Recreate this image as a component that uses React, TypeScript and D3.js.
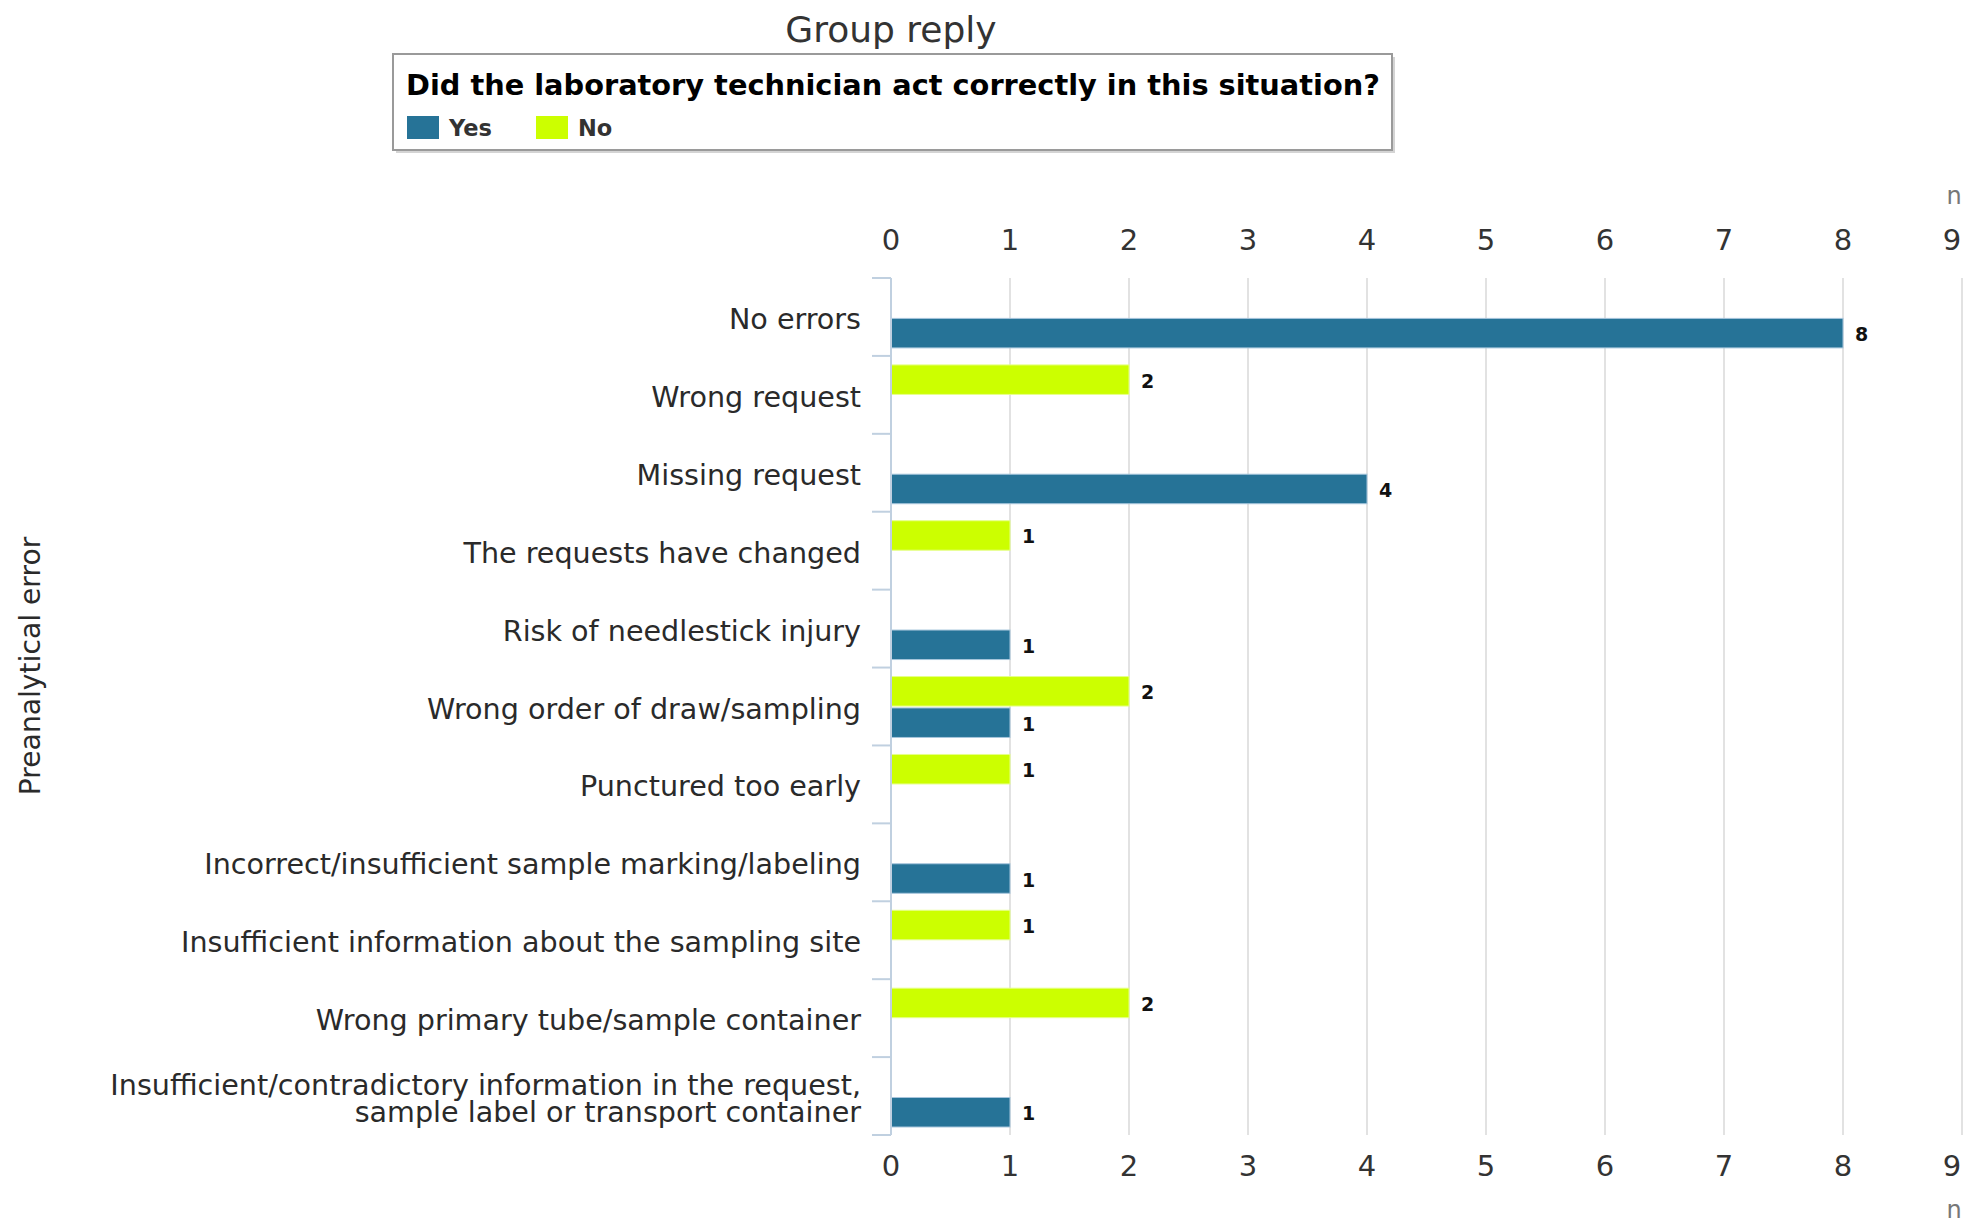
import React from "react";
import * as d3 from "d3";

const categories: string[][] = [
  ["No errors"],
  ["Wrong request"],
  ["Missing request"],
  ["The requests have changed"],
  ["Risk of needlestick injury"],
  ["Wrong order of draw/sampling"],
  ["Punctured too early"],
  ["Incorrect/insufficient sample marking/labeling"],
  ["Insufficient information about the sampling site"],
  ["Wrong primary tube/sample container"],
  ["Insufficient/contradictory information in the request,", "sample label or transport container"],
];
const seriesNames = ["No", "Yes"];
const noValues = [0, 2, 0, 1, 0, 2, 1, 0, 1, 2, 0];
const yesValues = [8, 0, 4, 0, 1, 1, 0, 1, 0, 0, 1];
const xTicks = [0, 1, 2, 3, 4, 5, 6, 7, 8, 9];
const legendItems = ["Yes", "No"];

const W = 1977;
const H = 1226;
const FONT = "'DejaVu Sans', Verdana, sans-serif";
const COLORS: Record<string, string> = { Yes: "#267397", No: "#ccff00" };
const STROKES: Record<string, string> = { Yes: "#a7c6dc", No: "#e6ff8a" };

export default function App() {
  const left = 891;
  const right = 1962;
  const top = 278;
  const bottom = 1135;
  const x = d3.scaleLinear().domain([0, 9]).range([left, right]);
  const keys = categories.map((c) => c.join(" "));
  const y = d3.scaleBand<string>().domain(keys).range([top, bottom]).padding(0);
  const bw = y.bandwidth();
  const sub = d3.scaleBand<string>().domain(seriesNames).range([9, bw - 8]).paddingInner(0.06).paddingOuter(0);
  const values: Record<string, number[]> = { No: noValues, Yes: yesValues };

  const boundaries = keys.map((k) => y(k) as number).concat([bottom]);

  return (
    <div style={{ position: "absolute", left: 0, top: 0 }}>
      <svg width={W} height={H} style={{ display: "block", fontFamily: FONT }}>
        <rect x={0} y={0} width={W} height={H} fill="#fff" />
        {/* Title */}
        <text x={891} y={29} textAnchor="middle" dominantBaseline="central" fontSize={36} fill="#333">
          Group reply
        </text>
        {/* Legend */}
        <rect x={396} y={57} width={999} height={96} fill="#d4d4d4" />
        <rect x={393} y={54} width={999} height={96} fill="#fff" stroke="#9a9a9a" strokeWidth={2} />
        <text x={406} y={85} dominantBaseline="central" fontSize={28.8} fontWeight="bold" fill="#000">
          Did the laboratory technician act correctly in this situation?
        </text>
        {legendItems.map((name, i) => {
          const lx = 407 + i * 129;
          return (
            <g key={name}>
              <rect x={lx} y={116} width={32} height={23} fill={COLORS[name]} />
              <text x={lx + 42} y={128} dominantBaseline="central" fontSize={22.5} fontWeight="bold" fill="#333">
                {name}
              </text>
            </g>
          );
        })}
        {/* Grid lines */}
        {xTicks.filter((t) => t > 0).map((t) => (
          <line key={"g" + t} x1={x(t)} x2={x(t)} y1={top} y2={bottom} stroke="#d9d9d9" strokeWidth={1.5} />
        ))}
        {/* Top and bottom tick labels */}
        {xTicks.map((t) => (
          <g key={"t" + t}>
            <text x={t === 9 ? x(t) - 10 : x(t)} y={240} textAnchor="middle" dominantBaseline="central" fontSize={29} fill="#333">
              {t}
            </text>
            <text x={t === 9 ? x(t) - 10 : x(t)} y={1166} textAnchor="middle" dominantBaseline="central" fontSize={29} fill="#333">
              {t}
            </text>
          </g>
        ))}
        <text x={1954} y={196} textAnchor="middle" dominantBaseline="central" fontSize={24} fill="#777">n</text>
        <text x={1954} y={1210} textAnchor="middle" dominantBaseline="central" fontSize={24} fill="#777">n</text>
        {/* Bars */}
        {keys.map((k, i) => (
          <g key={k}>
            {seriesNames.map((s) => {
              const v = values[s][i];
              if (!v) return null;
              const by = (y(k) as number) + (sub(s) as number);
              const bh = sub.bandwidth();
              return (
                <g key={s}>
                  <rect x={x(0)} y={by} width={x(v) - x(0)} height={bh} fill={COLORS[s]} stroke={STROKES[s]} strokeWidth={1} />
                  <text x={x(v) + 12} y={by + bh / 2 + 1} dominantBaseline="central" fontSize={19} fontWeight="bold" fill="#111">
                    {v}
                  </text>
                </g>
              );
            })}
          </g>
        ))}
        {/* Left axis */}
        <line x1={left} x2={left} y1={top} y2={bottom} stroke="#c0d0e0" strokeWidth={2} />
        {boundaries.map((b, i) => (
          <line key={"b" + i} x1={872} x2={left} y1={b} y2={b} stroke="#c0d0e0" strokeWidth={2} />
        ))}
        {/* Category labels */}
        {categories.map((lines, i) => {
          const cy = (y(keys[i]) as number) + bw / 2 + 2;
          const lh = 27;
          return (
            <text key={"c" + i} x={861} y={cy} textAnchor="end" fontSize={28.6} fill="#2a2a2a" dominantBaseline="central">
              {lines.map((ln, j) => (
                <tspan key={j} x={861} y={cy + (j - (lines.length - 1) / 2) * lh}>
                  {ln}
                </tspan>
              ))}
            </text>
          );
        })}
        {/* Y axis title */}
        <text
          transform={`translate(30,666) rotate(-90)`}
          textAnchor="middle"
          dominantBaseline="central"
          fontSize={28.2}
          fill="#2a2a2a"
        >
          Preanalytical error
        </text>
      </svg>
    </div>
  );
}
